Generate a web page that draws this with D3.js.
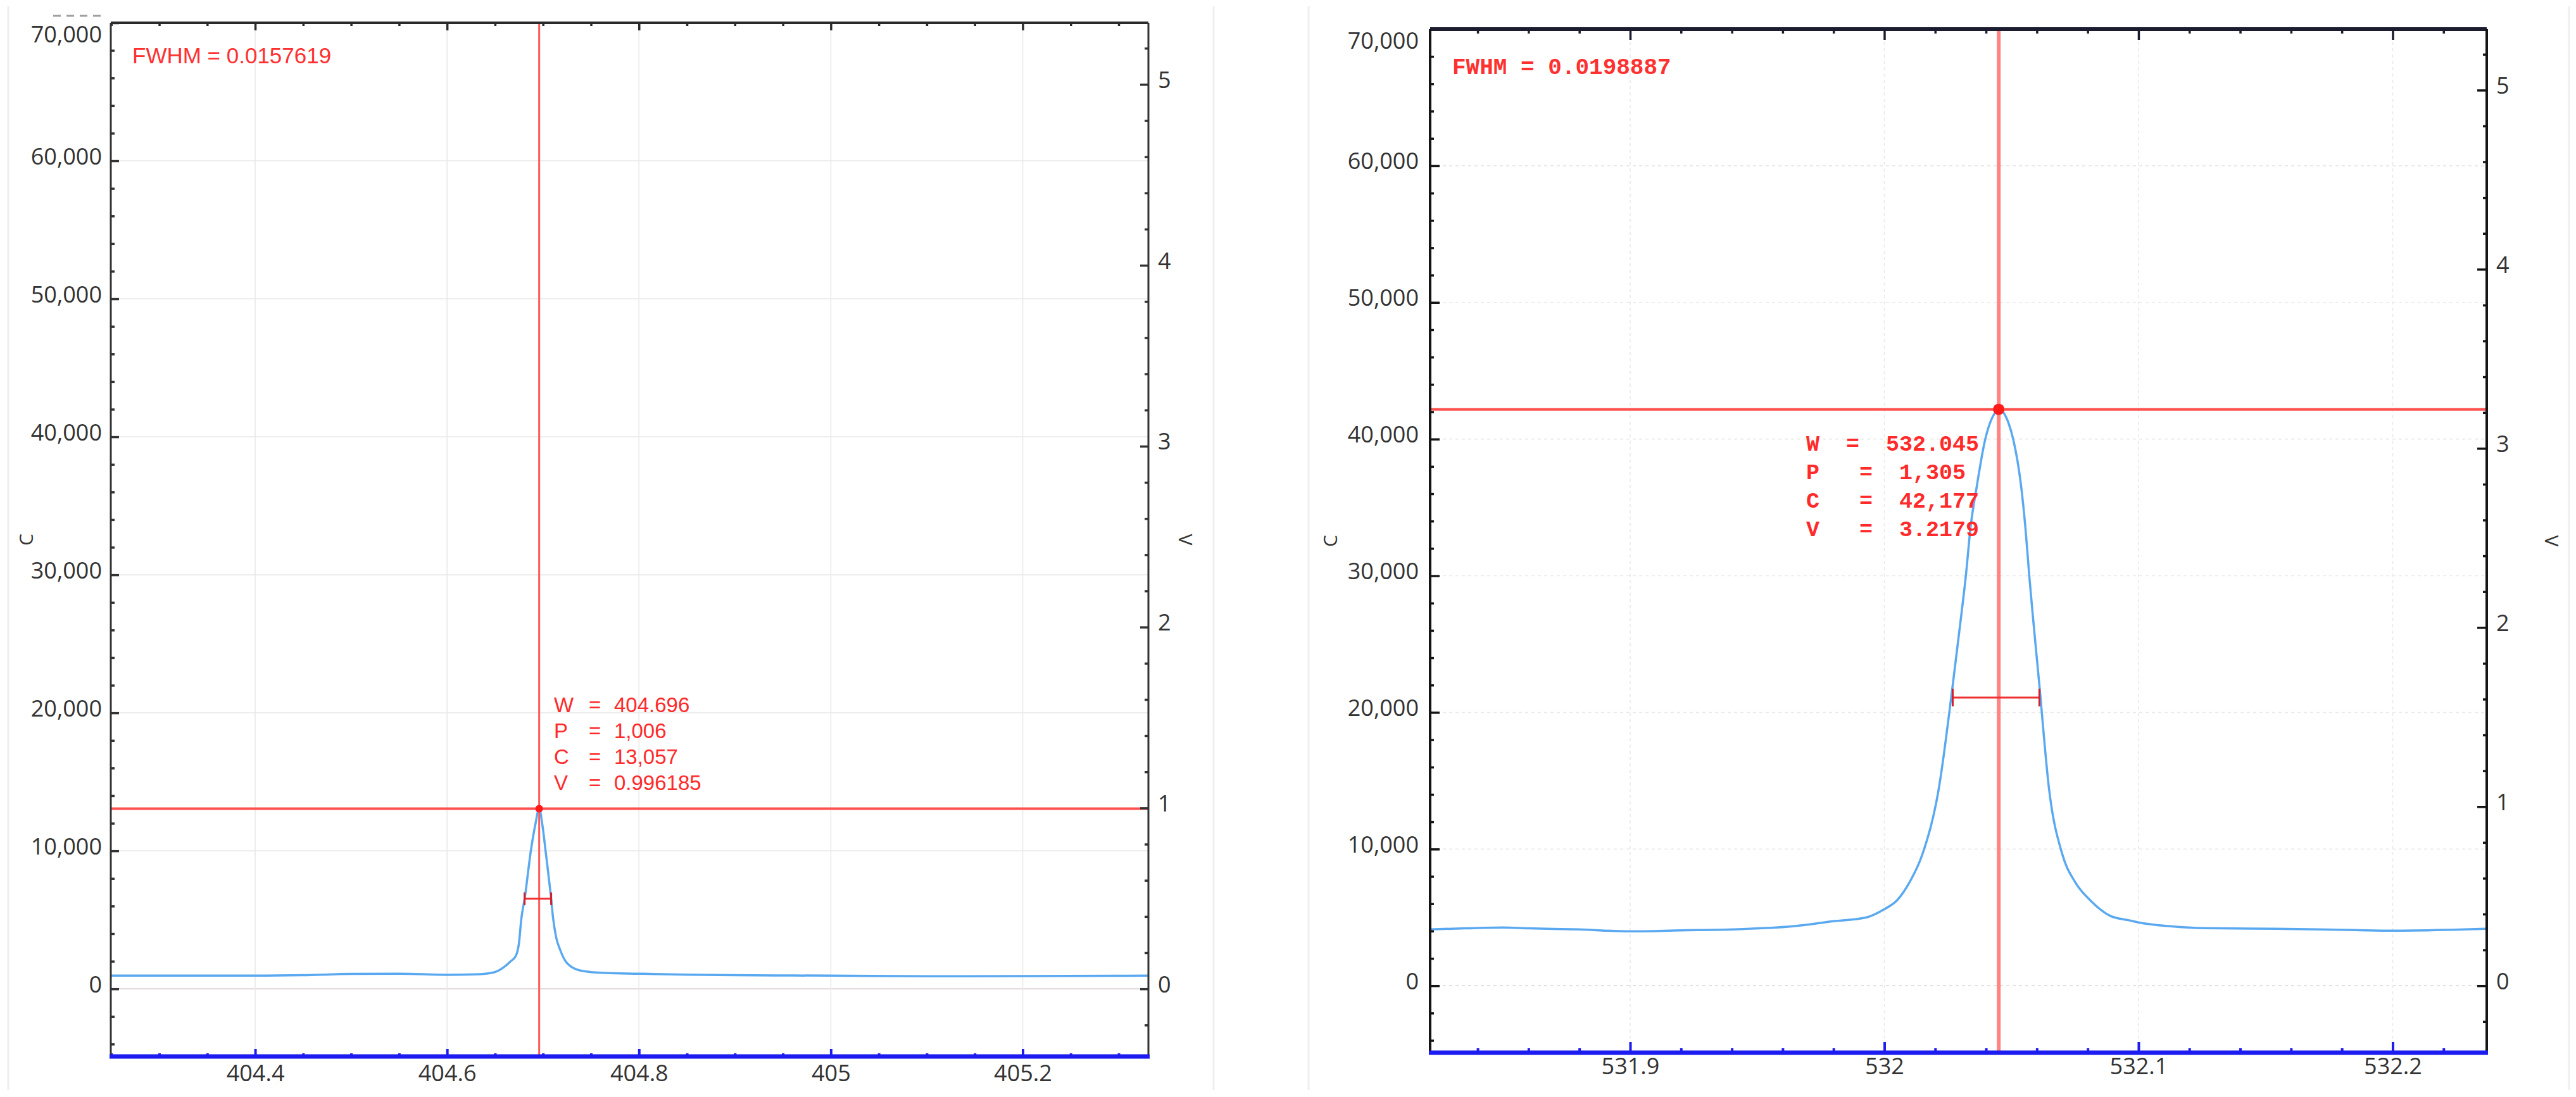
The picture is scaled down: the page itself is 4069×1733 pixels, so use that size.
<!DOCTYPE html>
<html><head><meta charset="utf-8">
<script src="https://cdn.jsdelivr.net/npm/d3@7"></script>
<style>html,body{margin:0;padding:0;background:#fff;} svg{display:block}</style>
</head><body>
<svg id="chart" width="4069" height="1733"></svg>
<script>
// ---------------- data ----------------
const leftWavelength = [404.2495, 404.30, 404.35, 404.40, 404.45, 404.50, 404.55, 404.60, 404.630, 404.6485, 404.659, 404.6663, 404.6716, 404.6749, 404.6775, 404.6808, 404.6874, 404.692, 404.696, 404.6993, 404.7026, 404.7085, 404.7105, 404.7138, 404.7178, 404.7244, 404.7389, 404.7646, 404.80, 404.85, 404.90, 404.95, 405.00, 405.10, 405.20, 405.331];
const leftCounts = [960, 965, 960, 955, 990, 1080, 1100, 1020, 1050, 1190, 1560, 2000, 2380, 3300, 5130, 6500, 10040, 11900, 13057, 11900, 10040, 6500, 5130, 3700, 2840, 1920, 1330, 1150, 1100, 1030, 990, 970, 960, 915, 920, 960];
const rightWavelength = [531.8213, 531.835, 531.850, 531.86, 531.88, 531.90, 531.92, 531.94, 531.964, 531.98, 531.993, 532.000, 532.005, 532.010, 532.015, 532.0214, 532.0269, 532.0304, 532.0321, 532.0339, 532.0364, 532.0396, 532.0433, 532.045, 532.0488, 532.0508, 532.0538, 532.0555, 532.0570, 532.0583, 532.0610, 532.0648, 532.070, 532.075, 532.081, 532.089, 532.096, 532.100, 532.1126, 532.126, 532.154, 532.185, 532.200, 532.2367];
const rightCounts = [4120, 4200, 4260, 4200, 4120, 3980, 4050, 4120, 4350, 4720, 5000, 5600, 6250, 7600, 9630, 14400, 21990, 27315, 30046, 33519, 36574, 39907, 41852, 42177, 41204, 39907, 36574, 33519, 30046, 27315, 21990, 14400, 9630, 7600, 6250, 5100, 4800, 4630, 4350, 4210, 4170, 4070, 4030, 4170];

const countTicks = [0, 10000, 20000, 30000, 40000, 50000, 60000, 70000];
const voltTicks = [0, 1, 2, 3, 4, 5];
const leftWaveTicks = [404.4, 404.6, 404.8, 405, 405.2];
const rightWaveTicks = [531.9, 532, 532.1, 532.2];

const peakNames = ["W", "P", "C", "V"];
const leftPeak = [404.696, 1006, 13057, 0.996185];
const rightPeak = [532.045, 1305, 42177, 3.2179];
const leftPeakText = ["404.696", "1,006", "13,057", "0.996185"];
const rightPeakText = ["532.045", "1,305", "42,177", "3.2179"];
const leftFwhm = "0.0157619";
const rightFwhm = "0.0198887";
const leftHalfWidth = [404.6808, 404.7085];
const rightHalfWidth = [532.0269, 532.0610];

const countDomain = [-4900, 70000];
const leftWaveDomain = [404.2495, 405.331];
const rightWaveDomain = [531.8213, 532.237];
const countsPerVolt = 65535 / 5;

// ---------------- drawing ----------------
const svg = d3.select("#chart");
svg.append("rect").attr("width", 4069).attr("height", 1733).attr("fill", "#fff");

// faint screenshot separators
const sep = svg.append("g").attr("stroke", "#efefef").attr("stroke-width", 3);
[13, 1917, 2067, 4058].forEach(xx => sep.append("line").attr("x1", xx).attr("x2", xx).attr("y1", 10).attr("y2", 1722));

const tickFont = "'Open Sans', 'DejaVu Sans', sans-serif";

function minorRange(lo, hi, step, skip) {
  const out = [];
  for (let i = Math.ceil(lo / step - 1e-9); i <= Math.floor(hi / step + 1e-9); i++) {
    const val = +(i * step).toFixed(6);
    if (!skip.some(s => Math.abs(s - val) < 1e-9)) out.push(val);
  }
  return out;
}

function drawPanel(p) {
  const g = svg.append("g");
  const x = d3.scaleLinear().domain(p.xDomain).range([p.left, p.right]);
  const y = d3.scaleLinear().domain(countDomain).range([p.bottom, p.top]);
  const v = d3.scaleLinear().domain(countDomain.map(c => c / countsPerVolt)).range([p.bottom, p.top]);

  const clipId = "clip" + p.id;
  svg.append("clipPath").attr("id", clipId).append("rect")
    .attr("x", p.left).attr("y", p.top).attr("width", p.right - p.left).attr("height", p.bottom - p.top);

  // grid
  const grid = g.append("g").attr("stroke-width", 1.6).attr("fill", "none");
  grid.selectAll("line.gh").data(countTicks).join("line")
    .attr("x1", p.left).attr("x2", p.right)
    .attr("y1", d => y(d)).attr("y2", d => y(d))
    .attr("stroke", d => d === 0 ? "#dcd2d2" : "#e9e9e9")
    .attr("stroke-dasharray", p.gridDash);
  grid.selectAll("line.gv").data(p.xTicks).join("line")
    .attr("y1", p.top).attr("y2", p.bottom)
    .attr("x1", d => x(d)).attr("x2", d => x(d))
    .attr("stroke", "#e9e9e9")
    .attr("stroke-dasharray", p.gridDash);

  // spectrum
  g.append("path")
    .datum(d3.zip(p.wl, p.counts))
    .attr("clip-path", `url(#${clipId})`)
    .attr("fill", "none")
    .attr("stroke", "#5aa9f0")
    .attr("stroke-width", 3.5)
    .attr("stroke-linejoin", "round")
    .attr("d", d3.line().x(d => x(d[0])).y(d => y(d[1])).curve(d3.curveMonotoneX));

  // crosshair
  const px = x(p.peak[0]), py = y(p.peak[2]);
  g.append("line").attr("x1", px).attr("x2", px).attr("y1", p.top).attr("y2", p.bottom)
    .attr("stroke", "#ff5a5a").attr("stroke-width", p.vLineW).attr("opacity", p.vLineOp);
  g.append("line").attr("x1", p.left).attr("x2", p.right).attr("y1", py).attr("y2", py)
    .attr("stroke", "#ff5050").attr("stroke-width", p.hLineW);

  // half-width bar
  const hy = y(p.peak[2] / 2);
  const hb = g.append("g").attr("stroke", "#ee3030");
  hb.append("line").attr("x1", x(p.half[0])).attr("x2", x(p.half[1])).attr("y1", hy).attr("y2", hy).attr("stroke-width", 3);
  p.half.forEach(w => hb.append("line").attr("x1", x(w)).attr("x2", x(w))
    .attr("y1", hy - p.capH).attr("y2", hy + p.capH).attr("stroke-width", 3).attr("stroke", "#d02030"));

  g.append("circle").attr("cx", px).attr("cy", py).attr("r", p.dotR).attr("fill", "#ff1a1a");

  // axes
  function styleAxis(sel, color, width) {
    sel.select(".domain").remove();
    sel.selectAll(".tick line").attr("stroke", color).attr("stroke-width", width);
    sel.selectAll(".tick text").attr("fill", "#333").style("font-family", tickFont).style("font-size", "36px");
  }
  // left (counts)
  const la = g.append("g").attr("transform", `translate(${p.left},0)`)
    .call(d3.axisLeft(y).tickValues(countTicks).tickSize(-p.majorY).tickPadding(p.yPad).tickFormat(d3.format(",")));
  styleAxis(la, p.axisColor, 3.5);
  la.selectAll(".tick text").attr("dy", d => d === 70000 ? "0.85em" : "0.14em");
  const lam = g.append("g").attr("transform", `translate(${p.left},0)`)
    .call(d3.axisLeft(y).tickValues(minorRange(countDomain[0], countDomain[1], 2000, countTicks)).tickSize(-6).tickFormat(""));
  styleAxis(lam, p.axisColor, 3.5);
  // right (volts)
  const ra = g.append("g").attr("transform", `translate(${p.right},0)`)
    .call(d3.axisRight(v).tickValues(voltTicks).tickSize(-p.majorY).tickPadding(15).tickFormat(d3.format("d")));
  styleAxis(ra, p.axisColor, 3.5);
  ra.selectAll(".tick text").attr("dy", "0.14em");
  const vd = v.domain();
  const ram = g.append("g").attr("transform", `translate(${p.right},0)`)
    .call(d3.axisRight(v).tickValues(minorRange(vd[0], vd[1], 0.2, voltTicks)).tickSize(-6).tickFormat(""));
  styleAxis(ram, p.axisColor, 3.5);
  // bottom
  const ba = g.append("g").attr("transform", `translate(0,${p.bottom})`)
    .call(d3.axisBottom(x).tickValues(p.xTicks).tickSize(-p.majorX).tickPadding(p.xPad).tickFormat(d3.format("")));
  styleAxis(ba, "#1c1cf0", 4);
  const bam = g.append("g").attr("transform", `translate(0,${p.bottom})`)
    .call(d3.axisBottom(x).tickValues(minorRange(p.xDomain[0], p.xDomain[1], p.xMinor, p.xTicks)).tickSize(-p.minorX).tickFormat(""));
  styleAxis(bam, "#1c1cf0", 4);
  // top
  const ta = g.append("g").attr("transform", `translate(0,${p.top})`)
    .call(d3.axisTop(x).tickValues(p.xTicks).tickSize(-p.majorX).tickFormat(""));
  styleAxis(ta, p.topColor, 3.5);
  const tam = g.append("g").attr("transform", `translate(0,${p.top})`)
    .call(d3.axisTop(x).tickValues(minorRange(p.xDomain[0], p.xDomain[1], p.xMinor, p.xTicks)).tickSize(-p.minorX).tickFormat(""));
  styleAxis(tam, p.topColor, 3.5);

  // frame
  g.append("line").attr("x1", p.left).attr("x2", p.right).attr("y1", p.top).attr("y2", p.top)
    .attr("stroke", p.topColor).attr("stroke-width", p.topW);
  g.append("line").attr("x1", p.left).attr("x2", p.left).attr("y1", p.top).attr("y2", p.bottom)
    .attr("stroke", p.axisColor).attr("stroke-width", p.sideW);
  g.append("line").attr("x1", p.right).attr("x2", p.right).attr("y1", p.top).attr("y2", p.bottom)
    .attr("stroke", p.axisColor).attr("stroke-width", p.sideW);
  g.append("line").attr("x1", p.left - 2).attr("x2", p.right + 2).attr("y1", p.bottom).attr("y2", p.bottom)
    .attr("stroke", "#1c1cf0").attr("stroke-width", 7);

  // axis titles
  g.append("text").attr("transform", `translate(${p.cTitleX},${(p.top + p.bottom) / 2}) rotate(-90)`)
    .attr("text-anchor", "middle").attr("fill", "#333").style("font-family", tickFont).style("font-size", "30px").text("C");
  g.append("text").attr("transform", `translate(${p.vTitleX},${(p.top + p.bottom) / 2}) rotate(90)`)
    .attr("text-anchor", "middle").attr("fill", "#333").style("font-family", tickFont).style("font-size", "30px").text("V");

  // annotations
  g.append("text").attr("x", p.fwhmX).attr("y", p.fwhmY).attr("fill", "#ff3030")
    .attr("xml:space", "preserve").style("white-space", "pre")
    .style("font-family", p.annFont).style("font-weight", p.annWeight).style("font-size", p.fwhmSize + "px")
    .text(p.fwhmLabel);
  const ann = g.append("g").attr("fill", "#ff2a2a").style("font-family", p.annFont)
    .style("font-weight", p.annWeight).style("font-size", p.annSize + "px");
  peakNames.forEach((nm, i) => {
    const yy = p.annY + i * p.annStep;
    ann.append("text").attr("x", p.annX).attr("y", yy).text(nm);
    ann.append("text").attr("x", p.annX + (i === 0 ? p.eqX0 : p.eqX)).attr("y", yy).text("=");
    ann.append("text").attr("x", p.annX + (i === 0 ? p.valX0 : p.valX)).attr("y", yy).text(p.peakText[i]);
  });
}

drawPanel({
  id: "L", left: 175, right: 1814, top: 36, bottom: 1669,
  xDomain: leftWaveDomain, xTicks: leftWaveTicks, xMinor: 0.05,
  wl: leftWavelength, counts: leftCounts, peak: leftPeak, peakText: leftPeakText, half: leftHalfWidth,
  gridDash: null, majorY: 13, majorX: 12, minorX: 5, yPad: 14, xPad: 13,
  axisColor: "#333", topColor: "#2a2a2a", topW: 4, sideW: 3,
  vLineW: 3, vLineOp: 1, hLineW: 4, dotR: 6, capH: 10,
  cTitleX: 52, vTitleX: 1862,
  annFont: "'Liberation Sans', Arial, sans-serif", annWeight: "normal", fwhmSize: 35, fwhmX: 209, fwhmY: 100, fwhmLabel: "FWHM = " + leftFwhm,
  annSize: 33, annX: 875, annY: 1125, annStep: 41, eqX0: 55, eqX: 55, valX0: 95, valX: 95
});

drawPanel({
  id: "R", left: 2259, right: 3928, top: 46, bottom: 1663,
  xDomain: rightWaveDomain, xTicks: rightWaveTicks, xMinor: 0.02,
  wl: rightWavelength, counts: rightCounts, peak: rightPeak, peakText: rightPeakText, half: rightHalfWidth,
  gridDash: "5,5", majorY: 15, majorX: 17, minorX: 7, yPad: 18, xPad: 8,
  axisColor: "#151515", topColor: "#1c1c30", topW: 6, sideW: 4,
  vLineW: 6, vLineOp: 0.75, hLineW: 4, dotR: 9, capH: 14,
  cTitleX: 2112, vTitleX: 4020,
  annFont: "'Liberation Mono', 'Courier New', monospace", annWeight: "bold", fwhmSize: 36, fwhmX: 2294, fwhmY: 117, fwhmLabel: "FWHM = " + rightFwhm,
  annSize: 35, annX: 2853, annY: 712, annStep: 45, eqX0: 63, eqX: 84, valX0: 126, valX: 147
});

// clipped dashes above the left 70,000 label
svg.append("line").attr("x1", 84).attr("x2", 161).attr("y1", 25).attr("y2", 25)
  .attr("stroke", "#a0a0a0").attr("stroke-width", 3).attr("stroke-dasharray", "12,9");
</script>
</body></html>
